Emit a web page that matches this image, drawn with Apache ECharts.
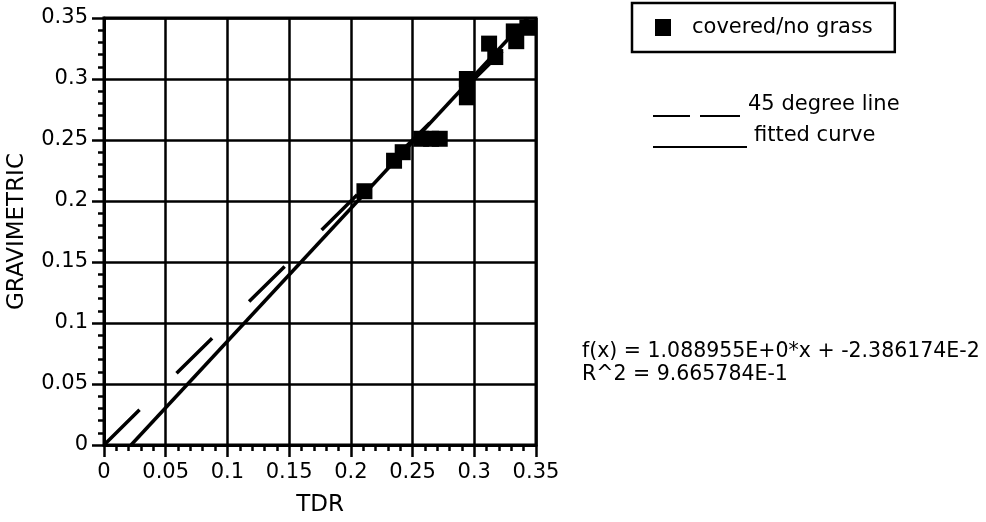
<!DOCTYPE html>
<html>
<head>
<meta charset="utf-8">
<script src="https://cdn.jsdelivr.net/npm/echarts@6/dist/echarts.min.js"></script>
<style>
  html, body { margin: 0; padding: 0; background: #fff; }
  #chart { width: 986px; height: 522px; }
</style>
</head>
<body>
<div id="chart"></div>
<script>
// TDR vs gravimetric soil moisture, covered plots without grass
const tdr  = [0.211, 0.235, 0.242, 0.257, 0.265, 0.272, 0.294, 0.294, 0.294, 0.312, 0.317, 0.332, 0.334, 0.343];
const grav = [0.208, 0.233, 0.240, 0.251, 0.251, 0.251, 0.300, 0.292, 0.285, 0.329, 0.318, 0.339, 0.331, 0.342];

// linear fit reported on the chart
const slope = 1.088955;
const intercept = -2.386174E-2;
const rSquared = 9.665784E-1;

const axisMin = 0;
const axisMax = 0.35;
const axisStep = 0.05;

const seriesName = 'covered/no grass';
const lineLabels = ['45 degree line', 'fitted curve'];
const equationLines = [
  'f(x) = 1.088955E+0*x + -2.386174E-2',
  'R^2 = 9.665784E-1'
];

const points = tdr.map((x, i) => [x, grav[i]]);
const diagonal = [[axisMin, axisMin], [axisMax, axisMax]];
// fitted line clipped to the plotting range
const fitStartX = (axisMin - intercept) / slope;
const fitEndX = (axisMax - intercept) / slope;
const fitLine = [[fitStartX, axisMin], [fitEndX, axisMax]];

const FONT = 'DejaVu Sans';
const black = '#000';

const chart = echarts.init(document.getElementById('chart'), null, { renderer: 'canvas' });

function valueAxis(name, nameGap, nameRotate) {
  return {
    type: 'value',
    min: axisMin,
    max: axisMax,
    interval: axisStep,
    name: name,
    nameLocation: 'middle',
    nameGap: nameGap,
    nameRotate: nameRotate,
    nameTextStyle: { fontFamily: FONT, fontSize: 23, color: black },
    axisLine: { show: true, onZero: false, lineStyle: { color: black, width: 3 } },
    axisTick: { show: true, inside: false, length: 12, lineStyle: { color: black, width: 2.5 } },
    minorTick: { show: true, splitNumber: 5, length: 6, lineStyle: { color: black, width: 2.5 } },
    splitLine: { show: true, lineStyle: { color: black, width: 2.5 } },
    axisLabel: { fontFamily: FONT, fontSize: 21, color: black }
  };
}

const xAxis = valueAxis('TDR', 49, 0);
xAxis.axisLabel.margin = 17;
const yAxis = valueAxis('GRAVIMETRIC', 75, 90);
yAxis.axisLabel.margin = 16;

chart.setOption({
  animation: false,
  backgroundColor: '#fff',
  grid: {
    left: 104, right: 450, top: 18, bottom: 74,
    show: true, borderColor: black, borderWidth: 3, backgroundColor: 'transparent'
  },
  xAxis: xAxis,
  yAxis: yAxis,
  legend: {
    data: [seriesName],
    left: 632,
    top: 3,
    orient: 'horizontal',
    backgroundColor: '#fff',
    borderColor: black,
    borderWidth: 2.5,
    borderRadius: 0,
    padding: [14, 22, 14, 23],
    itemWidth: 16,
    itemHeight: 17,
    icon: 'rect',
    itemStyle: { color: black },
    textStyle: { fontFamily: FONT, fontSize: 21, color: black, padding: [0, 0, 0, 16] },
    selectedMode: false
  },
  series: [
    {
      name: lineLabels[0],
      type: 'line',
      data: diagonal,
      symbol: 'none',
      lineStyle: { color: black, width: 3.5, type: [50, 52] },
      z: 3
    },
    {
      name: lineLabels[1],
      type: 'line',
      data: fitLine,
      symbol: 'none',
      lineStyle: { color: black, width: 3.5, type: 'solid' },
      z: 3
    },
    {
      name: seriesName,
      type: 'scatter',
      data: points,
      symbol: 'rect',
      symbolSize: 16,
      itemStyle: { color: black, opacity: 1 },
      z: 5
    }
  ],
  graphic: [
    // line-style key drawn under the legend box
    { type: 'line', shape: { x1: 653, y1: 116, x2: 690, y2: 116 }, style: { stroke: black, lineWidth: 2 } },
    { type: 'line', shape: { x1: 700, y1: 116, x2: 740, y2: 116 }, style: { stroke: black, lineWidth: 2 } },
    { type: 'text', left: 748, top: 94, style: { text: lineLabels[0], font: '21px "DejaVu Sans"', fill: black } },
    { type: 'line', shape: { x1: 653, y1: 147, x2: 747, y2: 147 }, style: { stroke: black, lineWidth: 2 } },
    { type: 'text', left: 754, top: 125, style: { text: lineLabels[1], font: '21px "DejaVu Sans"', fill: black } },
    // regression summary
    { type: 'text', left: 582, top: 341, style: { text: equationLines[0], font: '20.5px "DejaVu Sans"', fill: black } },
    { type: 'text', left: 582, top: 364, style: { text: equationLines[1], font: '20.5px "DejaVu Sans"', fill: black } }
  ]
});
</script>
</body>
</html>
